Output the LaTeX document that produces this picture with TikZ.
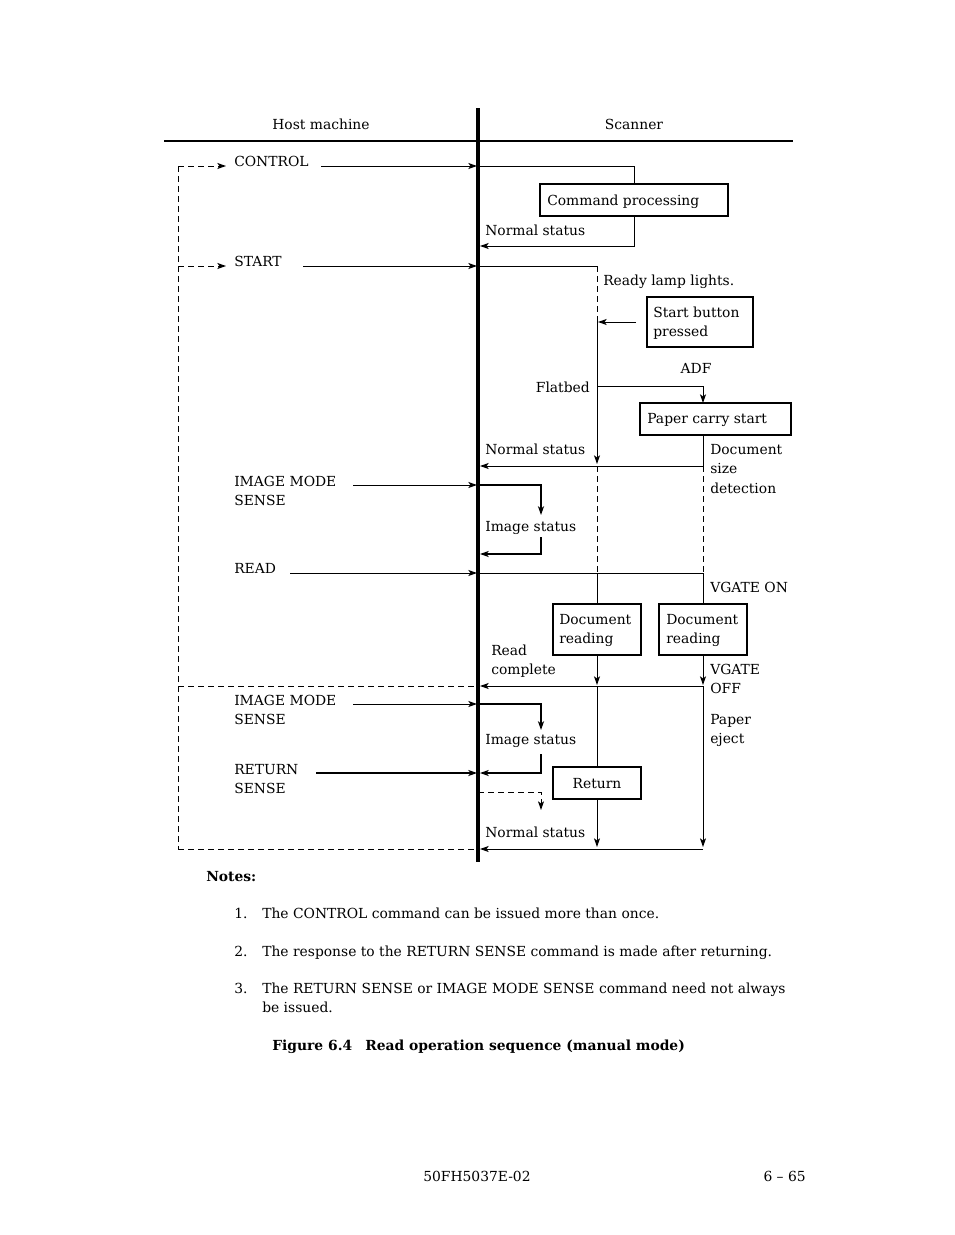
\documentclass[tikz,border=0pt]{standalone}
\usepackage{fontspec}
\setmainfont{DejaVu Serif}
\usetikzlibrary{arrows.meta,calc}
\newcommand\dfont{\fontsize{10.4pt}{14pt}\selectfont}
\begin{document}
\begin{tikzpicture}[x=0.75pt,y=-0.75pt,
  ln/.style={line width=0.75pt},
  thk/.style={line width=1.5pt},
  arr/.style={-{Stealth[length=6.5pt,width=4.5pt,inset=1.6pt]}},
  dsh/.style={dash pattern=on 4.5pt off 3pt},
  box/.style={draw,line width=1pt,inner sep=0pt,outer sep=0pt},
  txt/.style={anchor=base west,inner sep=0pt,font=\dfont},
  txte/.style={anchor=base east,inner sep=0pt,font=\dfont},
  txtc/.style={anchor=base,inner sep=0pt,font=\dfont},
]
\useasboundingbox (0,0) rectangle (954,1235);
\fill[white] (0,0) rectangle (954,1235);

% lifeline and header
\coordinate (lt) at (478,108);
\coordinate (lb) at (478,862);
\draw[line width=2.3pt] (lt) -- (lb);
\coordinate (hl) at (164,141);
\coordinate (hr) at (793,141);
\draw[line width=1.5pt] (hl) -- (hr);
\node[txtc] (host) at (321,129) {Host machine};
\node[txtc] (scan) at (634,129) {Scanner};

% dashed loop on the left
\coordinate (d1) at (178,166);
\coordinate (d2) at (178,266);
\coordinate (d3) at (178,686);
\coordinate (d4) at (178,849);
\coordinate (d1e) at (226,166);
\coordinate (d2e) at (226,266);
\coordinate (L686) at (478,686);
\coordinate (L849) at (478,849);
\draw[ln,dsh] (d1) -- (d4);
\draw[ln,dsh,arr] (d1) -- (d1e);
\draw[ln,dsh,arr] (d2) -- (d2e);
\draw[ln,dsh] (d3) -- (L686);
\draw[ln,dsh] (d4) -- (L849);

% host commands
\node[txt] (cctl) at (234,166) {CONTROL};
\coordinate (a1s) at (321,166); \coordinate (a1e) at (477,166);
\draw[ln,arr] (a1s) -- (a1e);
\node[txt] (cstart) at (234,266) {START};
\coordinate (a2s) at (303,266); \coordinate (a2e) at (477,266);
\draw[ln,arr] (a2s) -- (a2e);
\node[txt] (cims1) at (234,486) {IMAGE MODE};
\node[txt] (cims1b) at (234,505) {SENSE};
\coordinate (a3s) at (353,485); \coordinate (a3e) at (477,485);
\draw[ln,arr] (a3s) -- (a3e);
\node[txt] (cread) at (234,573) {READ};
\coordinate (a4s) at (290,573); \coordinate (a4e) at (477,573);
\draw[ln,arr] (a4s) -- (a4e);
\node[txt] (cims2) at (234,705) {IMAGE MODE};
\node[txt] (cims2b) at (234,724) {SENSE};
\coordinate (a5s) at (353,704); \coordinate (a5e) at (477,704);
\draw[ln,arr] (a5s) -- (a5e);
\node[txt] (cret) at (234,774) {RETURN};
\node[txt] (cretb) at (234,793) {SENSE};
\coordinate (a6s) at (316,773); \coordinate (a6e) at (477,773);
\draw[thk,arr] (a6s) -- (a6e);

% CONTROL processing
\node[box,minimum width=141pt,minimum height=24pt] (cp) at (634,200) {};
\node[txt] (cpt) at (547,205) {Command processing};
\coordinate (s1) at (478,166);
\draw[ln] (s1) -| (cp.north);
\coordinate (r1) at (480,246);
\draw[ln,arr] (cp.south) |- (r1);
\node[txt] (ns1) at (485,235) {Normal status};

% START processing
\coordinate (s2) at (478,266);
\coordinate (f1) at (597,266);
\coordinate (f2) at (597,322);
\coordinate (fb) at (597,386);
\coordinate (f3) at (597,464);
\draw[ln] (s2) -- (f1);
\draw[ln,dsh] (f1) -- (f2);
\node[txt] (rll) at (603,285) {Ready lamp lights.};
\node[box,minimum width=79.5pt,minimum height=37.5pt] (sbp) at (700,322) {};
\node[txt] (sbp1) at (653,317) {Start button};
\node[txt] (sbp2) at (653,336) {pressed};
\coordinate (sbs) at (636,322);
\coordinate (sbe) at (598,322);
\draw[ln,arr] (sbs) -- (sbe);
\draw[ln,arr] (f2) -- (f3);
\node[txte] (flat) at (590,392) {Flatbed};
\node[txtc] (adf) at (696,373) {ADF};
\coordinate (pct) at (703,403);
\draw[ln,arr] (fb) -| (pct);
\node[box,minimum width=113.25pt,minimum height=24pt] (pcs) at (715.5,419) {};
\node[txt] (pcst) at (647,423) {Paper carry start};
\coordinate (pcb) at (703,435);
\coordinate (r2) at (480,466);
\draw[ln,arr] (pcb) |- (r2);
\node[txt] (ns2) at (485,454) {Normal status};
\node[txt] (dsd1) at (710,454) {Document};
\node[txt] (dsd2) at (710,473) {size};
\node[txt] (dsd3) at (710,493) {detection};
\coordinate (g1) at (597,466); \coordinate (g1e) at (597,573);
\coordinate (g2) at (703,466); \coordinate (g2e) at (703,573);
\draw[ln,dsh] (g1) -- (g1e);
\draw[ln,dsh] (g2) -- (g2e);

% IMAGE MODE SENSE 1
\coordinate (s3) at (478,485);
\coordinate (i1) at (541,515);
\draw[thk,arr] (s3) -| (i1);
\node[txt] (is1) at (485,531) {Image status};
\coordinate (i2) at (541,537);
\coordinate (r3) at (480,554);
\draw[thk,arr] (i2) |- (r3);

% READ
\coordinate (s4) at (478,573);
\coordinate (s4e) at (703,573);
\draw[ln] (s4) -- (s4e);
\node[box,minimum width=66pt,minimum height=38.25pt] (dr1) at (597,629.5) {};
\node[box,minimum width=66pt,minimum height=38.25pt] (dr2) at (703,629.5) {};
\draw[ln] (g1e) -- (dr1.north);
\draw[ln] (s4e) -- (dr2.north);
\node[txt] (vgon) at (710,592) {VGATE ON};
\node[txt] (dr1a) at (559,624) {Document};
\node[txt] (dr1b) at (559,643) {reading};
\node[txt] (dr2a) at (666,624) {Document};
\node[txt] (dr2b) at (666,643) {reading};
\coordinate (k1) at (597,685);
\coordinate (k2) at (703,685);
\draw[ln,arr] (dr1.south) -- (k1);
\draw[ln,arr] (dr2.south) -- (k2);
\node[txt] (rc1) at (491,655) {Read};
\node[txt] (rc2) at (491,674) {complete};
\node[txt] (vgoff1) at (710,674) {VGATE};
\node[txt] (vgoff2) at (710,693) {OFF};
\coordinate (m2) at (703,686);
\coordinate (r4) at (480,686);
\draw[ln,arr] (m2) -- (r4);

% IMAGE MODE SENSE 2
\coordinate (s5) at (478,704);
\coordinate (j1) at (541,730);
\draw[thk,arr] (s5) -| (j1);
\node[txt] (is2) at (485,744) {Image status};
\coordinate (j2) at (541,754);
\coordinate (r5) at (480,773);
\draw[thk,arr] (j2) |- (r5);

% RETURN SENSE
\coordinate (s6) at (478,792);
\coordinate (j3) at (541,810);
\draw[ln,dsh,arr] (s6) -| (j3);
\node[box,minimum width=66pt,minimum height=24pt] (ret) at (597,783) {};
\node[txtc] (rett) at (597,788) {Return};
\coordinate (m1) at (597,686);
\draw[ln] (m1) -- (ret.north);
\coordinate (k3) at (597,847);
\draw[ln,arr] (ret.south) -- (k3);
\node[txt] (pe1) at (710,724) {Paper};
\node[txt] (pe2) at (710,743) {eject};
\coordinate (k4) at (703,847);
\draw[ln,arr] (m2) -- (k4);
\coordinate (m3) at (703,849);
\coordinate (r6) at (480,849);
\draw[ln,arr] (m3) -- (r6);
\node[txt] (ns3) at (485,837) {Normal status};

% notes
\node[txt,font=\dfont\bfseries] (notes) at (206,881) {Notes:};
\node[txt] (n1) at (234,918) {1.};
\node[txt] (n1t) at (262,918) {The CONTROL command can be issued more than once.};
\node[txt] (n2) at (234,956) {2.};
\node[txt] (n2t) at (262,956) {The response to the RETURN SENSE command is made after returning.};
\node[txt] (n3) at (234,993) {3.};
\node[txt] (n3t) at (262,993) {The RETURN SENSE or IMAGE MODE SENSE command need not always};
\node[txt] (n3u) at (262,1012) {be issued.};
\node[txt,font=\dfont\bfseries] (fig) at (272,1050) {Figure 6.4};
\node[txt,font=\dfont\bfseries] (figt) at (365,1050) {Read operation sequence (manual mode)};
\node[txt] (foot1) at (423,1181) {50FH5037E-02};
\node[txte] (foot2) at (806,1181) {6 – 65};
\end{tikzpicture}
\end{document}
